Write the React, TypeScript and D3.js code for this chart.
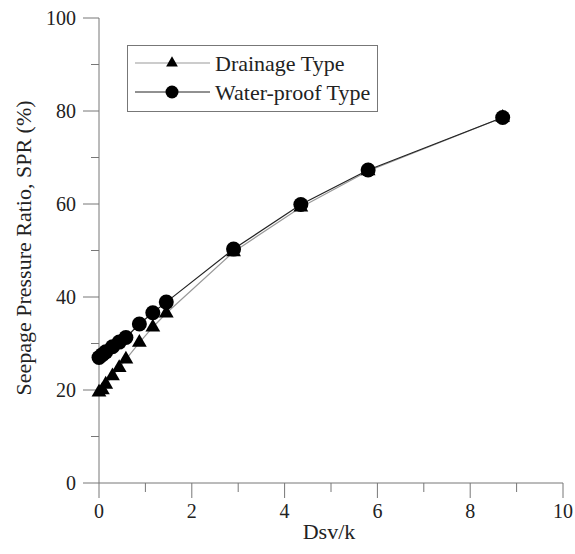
import React, { useEffect, useRef } from "react";
import * as d3 from "d3";

// Dsv/k values shared by both series
const dsvK = [0, 0.0725, 0.145, 0.29, 0.435, 0.58, 0.87, 1.16, 1.45, 2.9, 4.35, 5.8, 8.7];
// seepage pressure ratio (%)
const drainage = [19.5, 20.0, 21.2, 23.0, 24.8, 26.6, 30.2, 33.5, 36.5, 49.7, 59.3, 67.1, 78.6];
const waterproof = [27.0, 27.6, 28.2, 29.3, 30.3, 31.3, 34.2, 36.6, 38.9, 50.3, 59.9, 67.3, 78.6];

const xTicks = [0, 2, 4, 6, 8, 10];
const yTicks = [0, 20, 40, 60, 80, 100];
const seriesNames = ["Drainage Type", "Water-proof Type"];

const FONT = "Liberation Serif, DejaVu Serif, serif";

export default function App() {
  const ref = useRef<SVGSVGElement>(null);

  useEffect(() => {
    const svg = d3.select(ref.current);
    svg.selectAll("*").remove();

    const left = 99, right = 563, top = 18, bottom = 483;

    const x = d3.scaleLinear().domain([0, 10]).range([left, right]);
    const y = d3.scaleLinear().domain([0, 100]).range([bottom, top]);

    const txt = (g: any, size: number) =>
      g.append("text").style("font-family", FONT).style("font-size", size + "px").attr("fill", "#222");

    // Y axis
    const gy = svg.append("g").attr("transform", `translate(${left},0)`);
    gy.append("line").attr("y1", top).attr("y2", bottom).attr("stroke", "#777");
    d3.range(0, 101, 10).forEach((v) => {
      const major = v % 20 === 0;
      gy.append("line")
        .attr("x1", major ? -16 : -8).attr("x2", 0)
        .attr("y1", y(v)).attr("y2", y(v))
        .attr("stroke", "#777");
    });
    yTicks.forEach((v) => {
      txt(gy, 20)
        .attr("x", -23).attr("y", y(v)).attr("dy", "0.35em")
        .attr("text-anchor", "end")
        .text(v);
    });

    // X axis
    const gx = svg.append("g").attr("transform", `translate(0,${bottom})`);
    gx.append("line").attr("x1", left).attr("x2", right).attr("stroke", "#777");
    d3.range(0, 11, 1).forEach((v) => {
      const major = v % 2 === 0;
      gx.append("line")
        .attr("x1", x(v)).attr("x2", x(v))
        .attr("y1", 0).attr("y2", major ? 15 : 9)
        .attr("stroke", "#777");
    });
    xTicks.forEach((v) => {
      txt(gx, 20)
        .attr("x", x(v)).attr("y", 35)
        .attr("text-anchor", "middle")
        .text(v);
    });

    // axis titles
    txt(svg, 22)
      .attr("x", 329).attr("y", 539)
      .attr("text-anchor", "middle")
      .text("Dsv/k");
    txt(svg, 22)
      .attr("transform", `translate(31,248) rotate(-90)`)
      .attr("text-anchor", "middle")
      .text("Seepage Pressure Ratio, SPR (%)");

    const line = d3.line<number>()
      .x((d, i) => x(dsvK[i]))
      .y((d) => y(d));

    const tri = d3.symbol().type(d3.symbolTriangle).size(95);
    const tri2 = d3.symbol().type(d3.symbolTriangle).size(60);

    // drainage series (grey line, triangles)
    svg.append("path").datum(drainage)
      .attr("d", line).attr("fill", "none")
      .attr("stroke", "#999").attr("stroke-width", 1.2);
    svg.selectAll(".tri").data(drainage).enter().append("path")
      .attr("d", tri)
      .attr("transform", (d, i) => `translate(${x(dsvK[i])},${y(d)})`)
      .attr("fill", "#000");

    // water-proof series (black line, circles)
    svg.append("path").datum(waterproof)
      .attr("d", line).attr("fill", "none")
      .attr("stroke", "#222").attr("stroke-width", 1.2);
    svg.selectAll(".dot").data(waterproof).enter().append("circle")
      .attr("cx", (d, i) => x(dsvK[i]))
      .attr("cy", (d) => y(d))
      .attr("r", 7.5)
      .attr("fill", "#000");

    // legend
    const lg = svg.append("g");
    lg.append("rect")
      .attr("x", 127.5).attr("y", 45.5).attr("width", 250).attr("height", 66)
      .attr("fill", "#fff").attr("stroke", "#777");
    const rows = [63, 92];
    seriesNames.forEach((name, i) => {
      lg.append("line")
        .attr("x1", 135).attr("x2", 210).attr("y1", rows[i]).attr("y2", rows[i])
        .attr("stroke", i === 0 ? "#999" : "#222");
      if (i === 0) {
        lg.append("path").attr("d", tri2)
          .attr("transform", `translate(172,${rows[i]})`).attr("fill", "#000");
      } else {
        lg.append("circle").attr("cx", 172).attr("cy", rows[i]).attr("r", 6.5).attr("fill", "#000");
      }
      txt(lg, 22)
        .attr("x", 215).attr("y", rows[i]).attr("dy", "0.35em")
        .text(name);
    });
  }, []);

  return (
    <svg
      ref={ref}
      width={575}
      height={554}
      style={{ position: "absolute", left: 0, top: 0, overflow: "visible" }}
    />
  );
}
